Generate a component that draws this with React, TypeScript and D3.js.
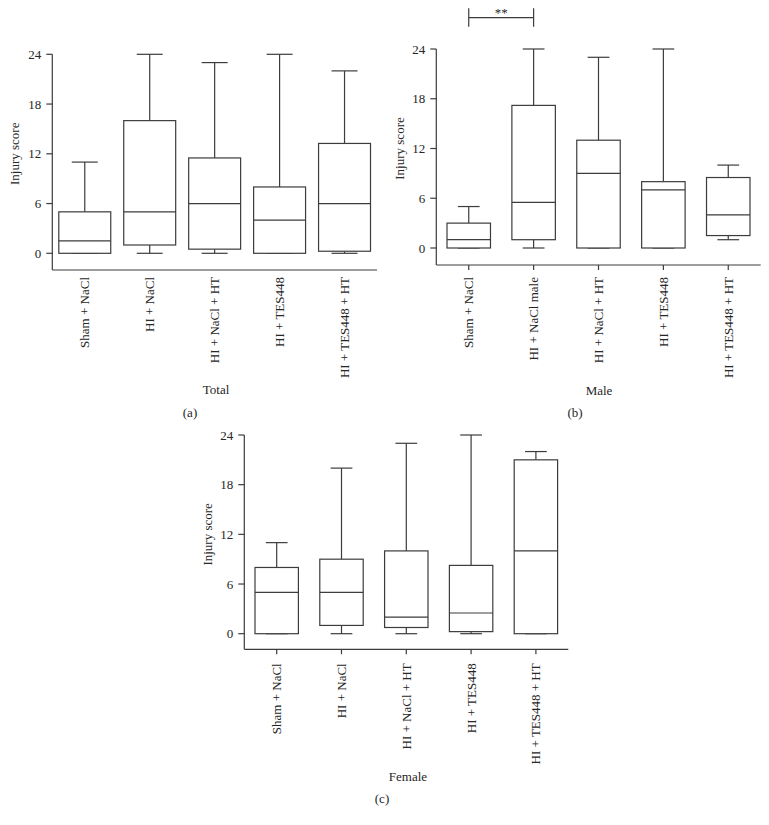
import React from "react";
import * as d3 from "d3";

// Categories per panel
const totalCategories = ["Sham + NaCl", "HI + NaCl", "HI + NaCl + HT", "HI + TES448", "HI + TES448 + HT"];
const maleCategories = ["Sham + NaCl", "HI + NaCl male", "HI + NaCl + HT", "HI + TES448", "HI + TES448 + HT"];
const femaleCategories = ["Sham + NaCl", "HI + NaCl", "HI + NaCl + HT", "HI + TES448", "HI + TES448 + HT"];

// [min, q1, median, q3, max]
const totalStats: number[][] = [
  [0, 0, 1.5, 5, 11],
  [0, 1, 5, 16, 24],
  [0, 0.5, 6, 11.5, 23],
  [0, 0, 4, 8, 24],
  [0, 0.25, 6, 13.25, 22],
];
const maleStats: number[][] = [
  [0, 0, 1, 3, 5],
  [0, 1, 5.5, 17.2, 24],
  [0, 0, 9, 13, 23],
  [0, 0, 7, 8, 24],
  [1, 1.5, 4, 8.5, 10],
];
const femaleStats: number[][] = [
  [0, 0, 5, 8, 11],
  [0, 1, 5, 9, 20],
  [0, 0.75, 2, 10, 23],
  [0, 0.25, 2.5, 8.25, 24],
  [0, 0, 10, 21, 22],
];

const yTicks = [0, 6, 12, 18, 24];
const yLabel = "Injury score";

const STROKE = "#3c3c3c";
const TEXT = "#262626";
const FONT = "'Liberation Serif', 'Times New Roman', serif";

type PanelProps = {
  categories: string[];
  stats: number[][];
  x0: number;
  x1: number;
  y0: number; // pixel for value 0
  y24: number; // pixel for value 24
  axisY: number;
  boxFrac: number;
  xTicks: boolean;
  labelGap: number;
  yLabelX: number;
  title: string;
  titleX: number;
  titleY: number;
  tag: string;
  tagX: number;
  tagY: number;
};

function Panel(p: PanelProps) {
  const x = d3.scaleBand<string>().domain(p.categories).range([p.x0, p.x1]).padding(0);
  const y = d3.scaleLinear().domain([0, 24]).range([p.y0, p.y24]);
  const bw = x.bandwidth() * p.boxFrac;
  const cw = bw / 2;
  const tickLen = 6;
  return (
    <g>
      {/* y axis */}
      <line x1={p.x0} x2={p.x0} y1={y(24)} y2={p.axisY} stroke={STROKE} strokeWidth={1.2} />
      {yTicks.map((t) => (
        <g key={t}>
          <line x1={p.x0 - tickLen} x2={p.x0} y1={y(t)} y2={y(t)} stroke={STROKE} strokeWidth={1.2} />
          <text x={p.x0 - tickLen - 5} y={y(t)} dy="0.35em" textAnchor="end" fontSize={13} fill={TEXT} fontFamily={FONT}>
            {t}
          </text>
        </g>
      ))}
      <text
        transform={`translate(${p.yLabelX},${(y(0) + y(24)) / 2}) rotate(-90)`}
        textAnchor="middle"
        dy="0.35em"
        fontSize={13}
        fill={TEXT}
        fontFamily={FONT}
      >
        {yLabel}
      </text>
      {/* x axis */}
      <line x1={p.x0} x2={p.x1} y1={p.axisY} y2={p.axisY} stroke={STROKE} strokeWidth={1.2} />
      {p.categories.map((c) => {
        const cx = (x(c) as number) + x.bandwidth() / 2;
        return (
          <g key={c}>
            {p.xTicks && (
              <line x1={cx} x2={cx} y1={p.axisY} y2={p.axisY + 5} stroke={STROKE} strokeWidth={1.2} />
            )}
            <text
              transform={`translate(${cx},${p.axisY + p.labelGap}) rotate(-90)`}
              textAnchor="end"
              dy="0.35em"
              fontSize={13}
              fill={TEXT}
              fontFamily={FONT}
            >
              {c}
            </text>
          </g>
        );
      })}
      {/* boxes */}
      {p.categories.map((c, i) => {
        const [mn, q1, med, q3, mx] = p.stats[i];
        const cx = (x(c) as number) + x.bandwidth() / 2;
        return (
          <g key={"b" + c} stroke={STROKE} strokeWidth={1.2} fill="none">
            <line x1={cx} x2={cx} y1={y(q3)} y2={y(mx)} />
            <line x1={cx} x2={cx} y1={y(q1)} y2={y(mn)} />
            <line x1={cx - cw / 2} x2={cx + cw / 2} y1={y(mx)} y2={y(mx)} />
            <line x1={cx - cw / 2} x2={cx + cw / 2} y1={y(mn)} y2={y(mn)} />
            <rect x={cx - bw / 2} y={y(q3)} width={bw} height={y(q1) - y(q3)} fill="white" />
            <line x1={cx - bw / 2} x2={cx + bw / 2} y1={y(med)} y2={y(med)} />
          </g>
        );
      })}
      <text x={p.titleX} y={p.titleY} textAnchor="middle" fontSize={13} fill={TEXT} fontFamily={FONT}>
        {p.title}
      </text>
      <text x={p.tagX} y={p.tagY} textAnchor="middle" fontSize={13} fill={TEXT} fontFamily={FONT}>
        {p.tag}
      </text>
    </g>
  );
}

export default function App() {
  // significance bracket in male panel between first two groups
  const mx = d3.scaleBand<string>().domain(maleCategories).range([436.3, 760.7]);
  const b1 = (mx(maleCategories[0]) as number) + mx.bandwidth() / 2;
  const b2 = (mx(maleCategories[1]) as number) + mx.bandwidth() / 2;
  return (
    <svg
      width={769}
      height={825}
      style={{ position: "absolute", left: 0, top: 0, background: "white" }}
    >
      <rect width={769} height={825} fill="white" />
      <Panel
        categories={totalCategories}
        stats={totalStats}
        x0={52.3}
        x1={377}
        y0={253.3}
        y24={54.3}
        axisY={270}
        boxFrac={0.8}
        xTicks={false}
        labelGap={7}
        yLabelX={14}
        title="Total"
        titleX={216}
        titleY={394}
        tag="(a)"
        tagX={190}
        tagY={417}
      />
      <Panel
        categories={maleCategories}
        stats={maleStats}
        x0={436.3}
        x1={760.7}
        y0={248}
        y24={49}
        axisY={265}
        boxFrac={0.67}
        xTicks={true}
        labelGap={12}
        yLabelX={399}
        title="Male"
        titleX={599}
        titleY={395}
        tag="(b)"
        tagX={575}
        tagY={417}
      />
      <Panel
        categories={femaleCategories}
        stats={femaleStats}
        x0={244.3}
        x1={568.3}
        y0={633.7}
        y24={435}
        axisY={649.3}
        boxFrac={0.67}
        xTicks={true}
        labelGap={14}
        yLabelX={207}
        title="Female"
        titleX={408}
        titleY={781}
        tag="(c)"
        tagX={382}
        tagY={803}
      />
      <g stroke={STROKE} strokeWidth={1.2}>
        <line x1={b1} x2={b2} y1={17.7} y2={17.7} />
        <line x1={b1} x2={b1} y1={8.3} y2={26.7} />
        <line x1={b2} x2={b2} y1={8.3} y2={26.7} />
      </g>
      <text x={(b1 + b2) / 2} y={17} textAnchor="middle" fontSize={13} fill={TEXT} fontFamily={FONT}>
        **
      </text>
    </svg>
  );
}
